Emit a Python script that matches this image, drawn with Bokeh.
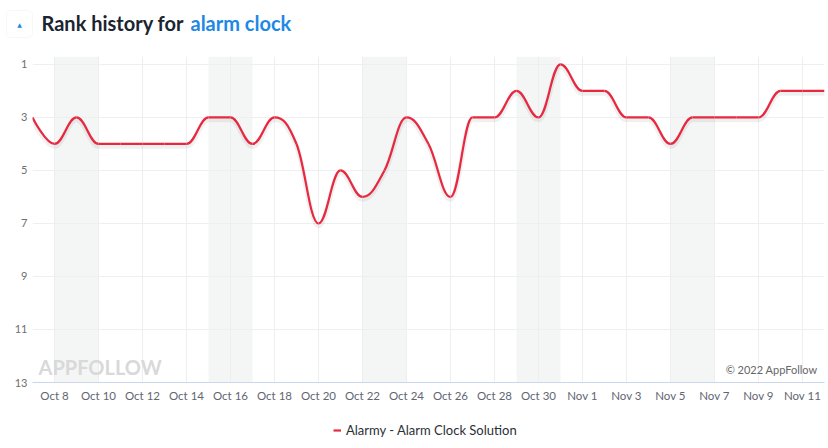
import numpy as np
import pandas as pd
from bokeh.plotting import figure
from bokeh.layouts import column
from bokeh.models import (ColumnDataSource, Range1d, FixedTicker, Label, BoxAnnotation,
                          Legend, LegendItem)
from bokeh.embed import file_html
from bokeh.resources import INLINE

# ---------------- data ----------------
start_date = "2022-10-07"
ranks = [3, 4, 3, 4, 4, 4, 4, 4, 3, 3, 4, 3, 4, 7, 5, 6, 5, 3, 4, 6, 3, 3, 2, 3, 1,
         2, 2, 3, 3, 4, 3, 3, 3, 3, 2, 2, 2]
series_name = "Alarmy - Alarm Clock Solution"
tick_start, tick_end = "2022-10-08", "2022-11-11"
tick_labels = ["Oct 8", "Oct 10", "Oct 12", "Oct 14", "Oct 16", "Oct 18", "Oct 20",
               "Oct 22", "Oct 24", "Oct 26", "Oct 28", "Oct 30", "Nov 1", "Nov 3",
               "Nov 5", "Nov 7", "Nov 9", "Nov 11"]
rank_ticks = [1, 3, 5, 7, 9, 11, 13]
weekend_starts = ["2022-10-08", "2022-10-15", "2022-10-22", "2022-10-29", "2022-11-05"]
title_text = "Rank history for"
keyword_text = "alarm clock"

RED = "#e8283f"
DAY = 86400000.0
W = 828
FL, FR = 32, 824   # frame left / right in page pixels

dates = pd.date_range(start_date, periods=len(ranks), freq="D")
xs = (dates.asi8 // 10**6).astype(float)
ys = np.array(ranks, dtype=float)


def spline_controls(x, y, smoothing=1.5):
    n = len(x)
    lcx, lcy, rcx, rcy = x.copy(), y.copy(), x.copy(), y.copy()
    d = smoothing + 1
    for i in range(1, n - 1):
        lx, ly, px, py, nx, ny = x[i-1], y[i-1], x[i], y[i], x[i+1], y[i+1]
        a = (smoothing * px + lx) / d
        b = (smoothing * py + ly) / d
        c = (smoothing * px + nx) / d
        e = (smoothing * py + ny) / d
        if c != a:
            corr = ((e - b) * (c - px)) / (c - a) + py - e
            b += corr
            e += corr
            if b > ly and b > py:
                b = max(ly, py); e = 2 * py - b
            elif b < ly and b < py:
                b = min(ly, py); e = 2 * py - b
            if e > ny and e > py:
                e = max(ny, py); b = 2 * py - e
            elif e < ny and e < py:
                e = min(ny, py); b = 2 * py - e
        lcx[i], lcy[i], rcx[i], rcy[i] = a, b, c, e
    return lcx, lcy, rcx, rcy


lcx, lcy, rcx, rcy = spline_controls(xs, ys)
seg = ColumnDataSource(dict(
    x0=xs[:-1], y0=ys[:-1], x1=xs[1:], y1=ys[1:],
    cx0=rcx[:-1], cy0=rcy[:-1], cx1=lcx[1:], cy1=lcy[1:],
))
off = 0.09
shadow = ColumnDataSource(dict(
    x0=xs[:-1], y0=ys[:-1] + off, x1=xs[1:], y1=ys[1:] + off,
    cx0=rcx[:-1], cy0=rcy[:-1] + off, cx1=lcx[1:], cy1=lcy[1:] + off,
))

ws = pd.to_datetime(weekend_starts)
ws_ms = (ws.asi8 // 10**6).astype(float)
bands = ColumnDataSource(dict(left=ws_ms, right=ws_ms + 2 * DAY))


def blank(height, xr, yr):
    f = figure(width=W, height=height, x_range=xr, y_range=yr,
               x_axis_location=None, y_axis_location=None,
               output_backend="svg", toolbar_location=None,
               min_border=0, min_border_left=0, min_border_right=0,
               min_border_top=0, min_border_bottom=0)
    f.frame_align = False
    f.grid.visible = False
    f.outline_line_color = None
    return f


# ---------------- header ----------------
head = blank(48, Range1d(0, W), Range1d(48, 0))
head.add_layout(BoxAnnotation(left=6, right=32, top=10, bottom=37,
                              fill_color="white", fill_alpha=1,
                              line_color="#e3e6ea", line_width=1, border_radius=4))
head.add_layout(Label(x=19, y=23.5, text="▲", text_font="DejaVu Sans",
                      text_font_size="6px", text_color="#1e88e5",
                      text_align="center", text_baseline="middle"))
head.add_layout(Label(x=41, y=22, text=title_text, text_font="Lato",
                      text_font_style="bold", text_font_size="20px",
                      text_color="#1b2431", text_baseline="middle"))
head.add_layout(Label(x=190, y=22, text=keyword_text, text_font="Lato",
                      text_font_style="bold", text_font_size="20px",
                      text_color="#1e88e5", text_baseline="middle"))

# ---------------- main chart ----------------
p = figure(width=W, height=356, x_axis_type="datetime",
           x_range=Range1d(xs[0], xs[-1]), y_range=Range1d(13, 0.7),
           output_backend="svg", toolbar_location=None,
           min_border_left=FL, min_border_right=W - FR, min_border_top=8, min_border_bottom=20)
p.frame_align = False
p.outline_line_color = None
p.background_fill_color = "white"
p.border_fill_color = "white"

p.quad(left="left", right="right", bottom=13, top=0.7, source=bands,
       fill_color="#f4f5f5", line_color=None, level="underlay")

p.bezier(x0="x0", y0="y0", x1="x1", y1="y1", cx0="cx0", cy0="cy0", cx1="cx1", cy1="cy1",
         source=shadow, line_color="#000000", line_alpha=0.06, line_width=5)
p.bezier(x0="x0", y0="y0", x1="x1", y1="y1", cx0="cx0", cy0="cy0", cx1="cx1", cy1="cy1",
         source=seg, line_color=RED, line_width=2.2)

tick_ms = (pd.date_range(tick_start, tick_end, freq="2D").asi8 // 10**6).tolist()
p.xaxis.ticker = FixedTicker(ticks=tick_ms)
p.xaxis.major_label_overrides = {int(t): lab for t, lab in zip(tick_ms, tick_labels)}
p.xaxis.axis_line_color = "#ccd6eb"
p.xaxis.major_tick_line_color = None
p.xaxis.minor_tick_line_color = None
p.xaxis.major_tick_out = 0
p.xaxis.minor_tick_out = 0
p.xaxis.major_tick_in = 0
p.xaxis.major_label_standoff = 6
p.xaxis.major_label_text_font = "Lato"
p.xaxis.major_label_text_font_size = "11.5px"
p.xaxis.major_label_text_color = "#5f6672"

p.yaxis.ticker = FixedTicker(ticks=rank_ticks)
p.yaxis.axis_line_color = None
p.yaxis.major_tick_line_color = None
p.yaxis.minor_tick_line_color = None
p.yaxis.major_tick_out = 0
p.yaxis.minor_tick_out = 0
p.yaxis.major_tick_in = 0
p.yaxis.major_label_standoff = 5
p.yaxis.major_label_text_font = "Lato"
p.yaxis.major_label_text_font_size = "11px"
p.yaxis.major_label_text_color = "#6f6f6f"

p.xgrid.ticker = FixedTicker(ticks=tick_ms)
p.xgrid.grid_line_color = "#eceef1"
p.ygrid.grid_line_color = "#eeeff1"

p.add_layout(Label(x=6, y=16, x_units="screen", y_units="screen", text="APPFOLLOW",
                   text_font="Lato", text_font_style="bold", text_font_size="20px",
                   text_color="#d9d9d9", text_baseline="middle"))
p.add_layout(Label(x=785, y=13, x_units="screen", y_units="screen", text="© 2022 AppFollow",
                   text_font="Lato", text_font_size="11px", text_color="#666666",
                   text_align="right", text_baseline="middle"))

# ---------------- footer with legend ----------------
foot = blank(44, Range1d(0, 1), Range1d(0, 1))
key = foot.line(x=xs, y=ys, line_color=RED, line_width=2.2)
legend = Legend(items=[LegendItem(label=series_name, renderers=[key])],
                location=(333, 10), orientation="horizontal",
                border_line_alpha=0, background_fill_alpha=0, padding=0, margin=0,
                glyph_width=8, glyph_height=16, label_height=16, label_standoff=5,
                label_text_font="Lato", label_text_font_size="13px",
                label_text_color="#2b2f36")
foot.add_layout(legend)

layout = column(head, p, foot, spacing=0)
open("out.html", "w").write(file_html(layout, INLINE))
